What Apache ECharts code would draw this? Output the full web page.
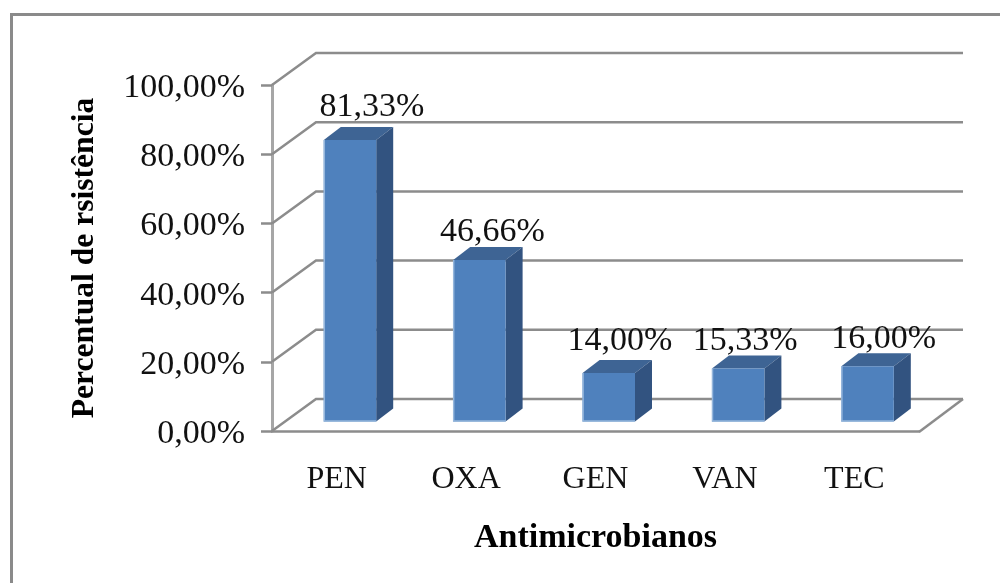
<!DOCTYPE html>
<html>
<head>
<meta charset="utf-8">
<style>html,body{margin:0;padding:0;background:#fff}#chart{width:1000px;height:583px}</style>
<script src="https://cdn.jsdelivr.net/npm/echarts@6/dist/echarts.min.js"></script>
</head>
<body>
<div id="chart"></div>
<script>
// Antimicrobial resistance percentages
const categories = ['PEN', 'OXA', 'GEN', 'VAN', 'TEC'];
const resistance = [81.33, 46.66, 14.00, 15.33, 16.00];
const yTicks = [0, 20, 40, 60, 80, 100];
const xTitle = 'Antimicrobianos';
const yTitle = 'Percentual de rsistência';

const SERIF = '"Liberation Serif", "Times New Roman", serif';
const GRID_COLOR = '#8c8c8c';
const pct = v => v.toFixed(2).replace('.', ',') + '%';

// Oblique offsets of the pseudo-3D box and of each column
const WALL_DX = 44, WALL_DY = -32;
const BAR_DX = 17, BAR_DY = -13;
const BAR_SHIFT_X = 13.3, BAR_SHIFT_Y = -9.5, BAR_RATIO = 0.405;
const LABEL_SHIFT_X = 14, LABEL_GAP = 33;
// Hand placement of the value labels, per column
const labelNudgeX = [8, -1, -3, -7, 2];
const labelNudgeY = [0, 5, 1, 6, 6];

function renderWall(params, api) {
  const cs = params.coordSys;
  const y = api.coord([0, api.value(0)])[1];
  const x0 = cs.x, x1 = cs.x + cs.width;
  const style = { stroke: GRID_COLOR, lineWidth: 2.5, fill: null };
  const children = [{
    type: 'polyline',
    shape: { points: [[x0, y], [x0 + WALL_DX, y + WALL_DY], [x1 + WALL_DX, y + WALL_DY]] },
    style
  }];
  if (api.value(0) === 0) {
    children.push({
      type: 'line',
      shape: { x1: x1, y1: y + 1, x2: x1 + WALL_DX, y2: y + WALL_DY },
      style
    });
  }
  return { type: 'group', children };
}

function renderBar(params, api) {
  const i = api.value(0), v = api.value(1);
  const base = api.coord([i, 0]), top = api.coord([i, v]);
  const w = api.size([1, 0])[0] * BAR_RATIO;
  const xL = base[0] + BAR_SHIFT_X - w / 2, xR = xL + w;
  const yB = base[1] + BAR_SHIFT_Y, yT = top[1] + BAR_SHIFT_Y;
  return {
    type: 'group',
    children: [
      { type: 'polygon', shape: { points: [[xL, yT], [xR, yT], [xR + BAR_DX, yT + BAR_DY], [xL + BAR_DX, yT + BAR_DY]] },
        style: { fill: '#3e6494' } },
      { type: 'polygon', shape: { points: [[xR, yT], [xR + BAR_DX, yT + BAR_DY], [xR + BAR_DX, yB + BAR_DY], [xR, yB]] },
        style: { fill: '#325380' } },
      { type: 'rect', shape: { x: xL, y: yT, width: w, height: yB - yT },
        style: { fill: '#4f81bd' } },
      { type: 'polyline', shape: { points: [[xL + 0.5, yT], [xL + 0.5, yB - 0.5], [xR, yB - 0.5]] },
        style: { stroke: '#95b6dc', lineWidth: 1.5, fill: null } },
      { type: 'text',
        x: base[0] + BAR_SHIFT_X + LABEL_SHIFT_X + labelNudgeX[i],
        y: yT - LABEL_GAP + labelNudgeY[i],
        style: { text: pct(v), fill: '#111', font: '34px ' + SERIF, align: 'center', verticalAlign: 'middle' } }
    ]
  };
}

const chart = echarts.init(document.getElementById('chart'));
chart.setOption({
  animation: false,
  backgroundColor: '#fff',
  graphic: [
    { type: 'polyline', silent: true, shape: { points: [[11.5, 583], [11.5, 14.5], [1000, 14.5]] },
      style: { stroke: '#8a8a8a', lineWidth: 3, fill: null } }
  ],
  grid: { left: 272, top: 85, width: 647, height: 346, containLabel: false },
  xAxis: {
    type: 'category',
    data: categories,
    axisLine: { lineStyle: { color: GRID_COLOR, width: 2.5 } },
    axisTick: { show: false },
    axisLabel: { fontFamily: SERIF, fontSize: 32, color: '#111', margin: 33 },
    name: xTitle,
    nameLocation: 'middle',
    nameGap: 90,
    nameTextStyle: { fontFamily: SERIF, fontSize: 34, fontWeight: 'bold', color: '#000' }
  },
  yAxis: {
    type: 'value',
    min: 0, max: 100, interval: 20,
    axisLine: { show: true, lineStyle: { color: '#a6a6a6', width: 3 } },
    axisTick: { show: true, length: 11, lineStyle: { color: GRID_COLOR, width: 2.5 } },
    splitLine: { show: false },
    axisLabel: { fontFamily: SERIF, fontSize: 34, color: '#111', margin: 27, verticalAlign: 'top', lineHeight: 6, formatter: pct },
    name: yTitle,
    nameLocation: 'middle',
    nameGap: 171,
    nameTextStyle: { fontFamily: SERIF, fontSize: 31.6, fontWeight: 'bold', color: '#000' }
  },
  series: [
    { type: 'custom', z: 1, silent: true, clip: false, renderItem: renderWall,
      encode: { y: 0 }, data: yTicks.map(v => [v]) },
    { type: 'custom', z: 2, silent: true, clip: false, renderItem: renderBar,
      encode: { x: 0, y: 1 }, data: resistance.map((v, i) => [i, v]) }
  ]
});
</script>
</body>
</html>
